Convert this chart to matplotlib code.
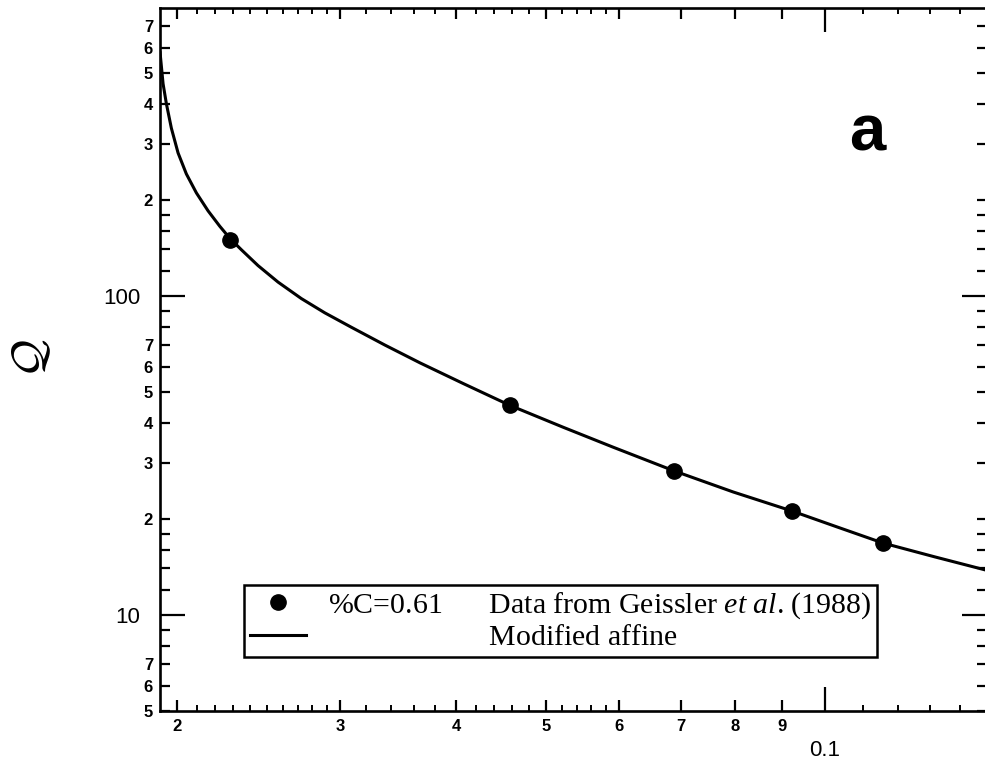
import matplotlib
matplotlib.use('Agg')
import matplotlib.pyplot as plt
from matplotlib.ticker import FixedLocator, FixedFormatter, NullFormatter, NullLocator

plt.rcParams['font.family'] = 'Liberation Sans'
plt.rcParams['mathtext.fontset'] = 'custom'
plt.rcParams['mathtext.rm'] = 'Liberation Serif'
plt.rcParams['mathtext.it'] = 'Liberation Serif:italic'

# ---------------- data ----------------
carbon_pts = [0.0228, 0.0457, 0.0688, 0.0921, 0.1156]
q_pts = [150.0, 45.4, 28.3, 21.2, 16.8]

curve_x = [0.019174, 0.019206, 0.019317, 0.019476, 0.019719, 0.020050, 0.020467,
           0.020983, 0.021601, 0.022239, 0.022798, 0.023464, 0.024456, 0.025702,
           0.027234, 0.028866, 0.030832, 0.033520, 0.036576, 0.040726, 0.04574,
           0.05221, 0.05911, 0.06875, 0.07964, 0.09208, 0.10298, 0.11561,
           0.13143, 0.1496]
curve_q = [579, 550.5, 463, 401, 336, 281, 241.5,
           210.6, 185, 165.5, 151.8, 139.7, 124.6, 110.6,
           98.2, 88.6, 79.85, 70.19, 61.72, 53.16, 45.4,
           38.77, 33.57, 28.3, 24.3, 21.2, 18.9, 16.8,
           15.21, 13.8]

legend_labels = [r'%C=0.61$\hspace{2.18}$Data from Geissler $\mathit{et}$ $\mathit{al}$. (1988)',
                 r'$\hspace{7.45}$Modified affine']
panel_label = 'a'

x_major_ticks = [0.1]
x_major_labels = ['0.1']
x_mid_ticks = [0.02, 0.03, 0.04, 0.05, 0.06, 0.07, 0.08, 0.09]
x_mid_labels = ['2', '3', '4', '5', '6', '7', '8', '9']
x_small_ticks = [0.021, 0.022, 0.023, 0.024, 0.025, 0.026, 0.027, 0.028, 0.029,
                 0.032, 0.034, 0.036, 0.038, 0.042, 0.044, 0.046, 0.048,
                 0.052, 0.054, 0.056, 0.058, 0.11, 0.12, 0.13, 0.14]

y_major_ticks = [10, 100]
y_major_labels = ['10', '100']
y_mid_ticks = [5, 6, 7, 8, 9, 12, 14, 16, 18, 20, 30, 40, 50, 60, 70, 80, 90,
               120, 140, 160, 180, 200, 300, 400, 500, 600, 700]
y_mid_labels = ['5', '6', '7', '', '', '', '', '', '', '2', '3', '4', '5', '6', '7', '', '',
                '', '', '', '', '2', '3', '4', '5', '6', '7']

# ---------------- figure ----------------
fig = plt.figure(figsize=(9.85, 7.66), dpi=100)
ax = fig.add_axes([160 / 985, 55 / 766, 827 / 985, 703 / 766])
ax.set_xscale('log')
ax.set_yscale('log')
ax.set_xlim(0.01917, 0.1496)
ax.set_ylim(5.0, 800)

line, = ax.plot(curve_x, curve_q, '-', color='black', lw=2.2, zorder=2,
                solid_joinstyle='round')
pts, = ax.plot(carbon_pts, q_pts, 'o', color='black', markersize=11, zorder=3)

for s in ax.spines.values():
    s.set_linewidth(1.9)

ax.xaxis.set_major_locator(FixedLocator(x_major_ticks))
ax.xaxis.set_major_formatter(FixedFormatter(x_major_labels))
ax.xaxis.set_minor_locator(FixedLocator(x_mid_ticks))
ax.xaxis.set_minor_formatter(FixedFormatter(x_mid_labels))
ax.yaxis.set_major_locator(FixedLocator(y_major_ticks))
ax.yaxis.set_major_formatter(FixedFormatter(y_major_labels))
ax.yaxis.set_minor_locator(FixedLocator(y_mid_ticks))
ax.yaxis.set_minor_formatter(FixedFormatter(y_mid_labels))

ax.tick_params(which='both', direction='in', top=True, right=True,
               labeltop=False, labelright=False, color='black')
ax.tick_params(axis='x', which='major', length=17, width=1.6, pad=21, labelsize=16)
ax.tick_params(axis='x', which='minor', length=8, width=1.6, pad=6, labelsize=12)
ax.tick_params(axis='y', which='major', length=18, width=1.6, pad=14, labelsize=16)
ax.tick_params(axis='y', which='minor', length=7, width=1.6, pad=5, labelsize=12)
plt.setp(ax.get_xticklabels(minor=True), fontweight='bold')
plt.setp(ax.get_yticklabels(minor=True), fontweight='bold')

for loc in ['bottom', 'top']:
    sec = ax.secondary_xaxis(loc)
    sec.xaxis.set_major_locator(FixedLocator(x_small_ticks))
    sec.xaxis.set_major_formatter(NullFormatter())
    sec.xaxis.set_minor_locator(NullLocator())
    sec.tick_params(which='major', direction='in', length=4, width=1.4)
    sec.spines[loc].set_visible(False)

ax.set_ylabel(r'$\mathcal{Q}$', fontsize=34, math_fontfamily='cm',
              rotation=90, va='center', ha='center')
ax.yaxis.set_label_coords(-0.1536, 0.502)

ax.text(0.855, 0.798, panel_label, transform=ax.transAxes, fontsize=47,
        fontweight='bold', ha='center', va='baseline')

leg = ax.legend([pts, line], legend_labels, loc='lower left',
                bbox_to_anchor=(0.1016, 0.0768), borderaxespad=0,
                prop={'family': 'Liberation Serif', 'size': 21.5},
                frameon=True, fancybox=False, framealpha=1, edgecolor='black',
                borderpad=0.2, labelspacing=0.1, handlelength=1.87,
                handletextpad=0.73, numpoints=1)
leg.get_frame().set_linewidth(1.8)

fig.savefig('out.png', dpi=100)
